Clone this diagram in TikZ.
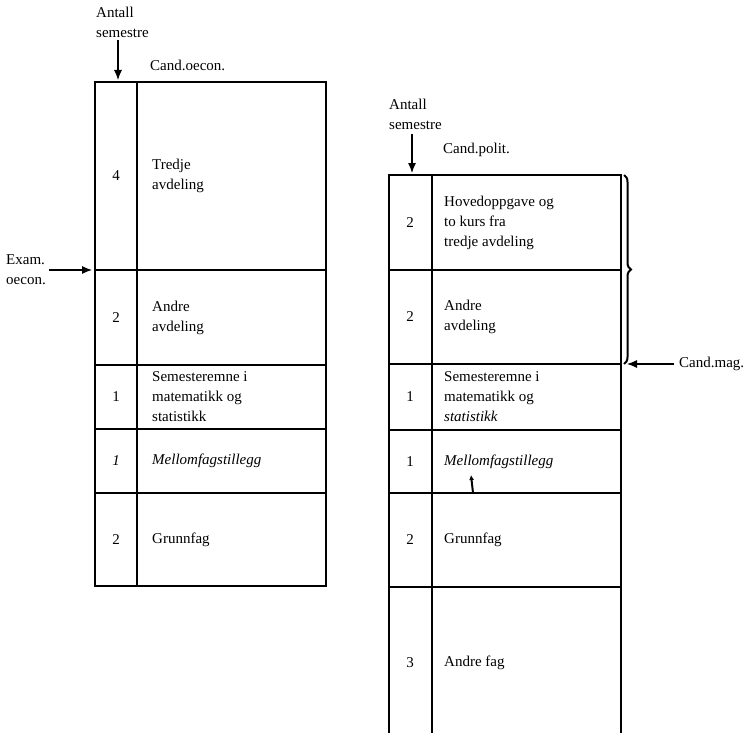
\documentclass[tikz,border=0pt]{standalone}
\usepackage{fontspec}
\setmainfont{Liberation Serif}
\usetikzlibrary{arrows.meta,positioning,decorations.pathreplacing}

\begin{document}
\begin{tikzpicture}[
    x=1pt, y=-1pt,
    font=\fontsize{15}{20}\selectfont,
    >={Latex[length=10pt,width=8pt]},
    rowbox/.style={rectangle, draw, line width=1.2pt, minimum width=231pt, inner sep=0pt, outer sep=0pt},
    numtext/.style={inner sep=0pt},
    celltext/.style={anchor=west, align=left, inner sep=0pt},
    plain/.style={anchor=west, align=left, inner sep=0pt},
    pointer/.style={->, line width=1.1pt}
]
\useasboundingbox (0,0) rectangle (749,733);

% Cand.oecon. table
\node[rowbox, anchor=north west, minimum height=188pt] (oTre) at (95,82) {};
\node[rowbox, below=0pt of oTre, minimum height=95pt] (oAnd) {};
\node[rowbox, below=0pt of oAnd, minimum height=64pt] (oSem) {};
\node[rowbox, below=0pt of oSem, minimum height=64pt] (oMel) {};
\node[rowbox, below=0pt of oMel, minimum height=93pt] (oGrf) {};
\draw[line width=1.2pt] ([xshift=42pt]oTre.north west) -- ([xshift=42pt]oGrf.south west);

\node[numtext] (oTreN) at ([xshift=21pt]oTre.west) {4};
\node[celltext] (oTreT) at ([xshift=57pt]oTre.west) {Tredje\\avdeling};
\node[numtext] (oAndN) at ([xshift=21pt]oAnd.west) {2};
\node[celltext] (oAndT) at ([xshift=57pt]oAnd.west) {Andre\\avdeling};
\node[numtext] (oSemN) at ([xshift=21pt]oSem.west) {1};
\node[celltext] (oSemT) at ([xshift=57pt]oSem.west) {Semesteremne i\\matematikk og\\statistikk};
\node[numtext] (oMelN) at ([xshift=21pt]oMel.west) {\textit{1}};
\node[celltext] (oMelT) at ([xshift=57pt]oMel.west) {\textit{Mellomfagstillegg}};
\node[numtext] (oGrfN) at ([xshift=21pt]oGrf.west) {2};
\node[celltext] (oGrfT) at ([xshift=57pt]oGrf.west) {Grunnfag};

% Cand.polit. table
\node[rowbox, anchor=north west, minimum width=232pt, minimum height=95pt] (pHov) at (389,175) {};
\node[rowbox, below=0pt of pHov, minimum width=232pt, minimum height=94pt] (pAnd) {};
\node[rowbox, below=0pt of pAnd, minimum width=232pt, minimum height=66pt] (pSem) {};
\node[rowbox, below=0pt of pSem, minimum width=232pt, minimum height=63pt] (pMel) {};
\node[rowbox, below=0pt of pMel, minimum width=232pt, minimum height=94pt] (pGrf) {};
\node[rowbox, draw=none, below=0pt of pGrf, minimum width=232pt, minimum height=146pt] (pAnf) {};
\draw[line width=1.2pt] (pAnf.north west) -- (pAnf.south west);
\draw[line width=1.2pt] (pAnf.north east) -- (pAnf.south east);
\draw[line width=1.2pt] ([xshift=43pt]pHov.north west) -- ([xshift=43pt]pAnf.south west);

\node[numtext] (pHovN) at ([xshift=21pt]pHov.west) {2};
\node[celltext] (pHovT) at ([xshift=55pt]pHov.west) {Hovedoppgave og\\to kurs fra\\tredje avdeling};
\node[numtext] (pAndN) at ([xshift=21pt]pAnd.west) {2};
\node[celltext] (pAndT) at ([xshift=55pt]pAnd.west) {Andre\\avdeling};
\node[numtext] (pSemN) at ([xshift=21pt]pSem.west) {1};
\node[celltext] (pSemT) at ([xshift=55pt]pSem.west) {Semesteremne i\\matematikk og\\\textit{statistikk}};
\node[numtext] (pMelN) at ([xshift=21pt]pMel.west) {1};
\node[celltext] (pMelT) at ([xshift=55pt]pMel.west) {\textit{Mellomfagstillegg}};
\node[numtext] (pGrfN) at ([xshift=21pt]pGrf.west) {2};
\node[celltext] (pGrfT) at ([xshift=55pt]pGrf.west) {Grunnfag};
\node[numtext] (pAnfN) at ([xshift=21pt]pAnf.north west |- 0,663) {3};
\node[celltext] (pAnfT) at ([xshift=55pt]pAnf.north west |- 0,663) {Andre fag};

% Labels
\node[plain] (oAntall) at (96,22) {Antall\\semestre};
\node[plain] (oCand) at (150,65) {Cand.oecon.};
\node[plain] (oExam) at (6,270) {Exam.\\oecon.};
\node[plain] (pAntall) at (389,114) {Antall\\semestre};
\node[plain] (pCand) at (443,150) {Cand.polit.};
\node[plain] (pMag) at (679,364) {Cand.mag.};

\coordinate (oTop) at ([xshift=23pt]oTre.north west);
\coordinate (pTop) at ([xshift=23pt]pHov.north west);
\coordinate (mTail) at ([xshift=84pt]pMel.south west);
\coordinate (mHead) at ([xshift=82pt,yshift=18pt]pMel.south west);

% Connections
\draw[pointer, shorten <=3pt, shorten >=2pt] (oAntall.south -| oTop) -- (oTop);
\draw[pointer, shorten <=3pt, shorten >=3pt] (oExam.east) -- (oAnd.north west);
\draw[pointer, shorten <=5pt, shorten >=2pt] (pAntall.south -| pTop) -- (pTop);
\draw[pointer, shorten <=5pt, shorten >=6pt] (pMag.west) -- (pAnd.south east);
\draw[->, line width=2pt, >={Latex[length=5pt,width=5pt]}] (mTail) -- (mHead);

\draw[line width=2pt, decorate, decoration={brace, amplitude=7pt}]
    ([xshift=3pt]pHov.north east) -- ([xshift=3pt]pAnd.south east);

\end{tikzpicture}
\end{document}
